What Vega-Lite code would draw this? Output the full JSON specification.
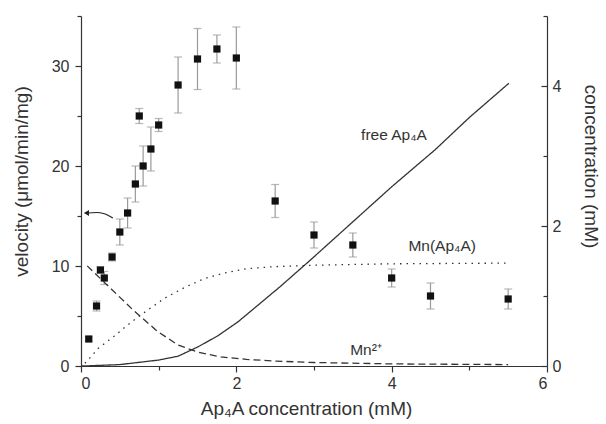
{
  "$schema": "https://vega.github.io/schema/vega-lite/v6.json",
  "width": 466,
  "height": 350,
  "autosize": {"type": "none"},
  "padding": {"left": 81, "top": 16, "right": 59, "bottom": 58},
  "background": "white",
  "config": {
    "view": {"stroke": null},
    "font": "Liberation Sans",
    "scale": {"continuousPadding": 0},
    "axis": {
      "grid": false,
      "domainColor": "#333",
      "tickColor": "#333",
      "labelColor": "#333",
      "titleColor": "#333",
      "labelFontSize": 16,
      "titleFontSize": 19,
      "titleFontWeight": "normal",
      "domainWidth": 1.2,
      "tickWidth": 1.2
    }
  },
  "datasets": {
    "pts": [
      {"x": 0.1, "v": 2.7, "lo": 2.5, "hi": 2.9},
      {"x": 0.2, "v": 6.0, "lo": 5.5, "hi": 6.5},
      {"x": 0.25, "v": 9.6, "lo": 9.3, "hi": 9.9},
      {"x": 0.3, "v": 8.8, "lo": 8.15, "hi": 9.45},
      {"x": 0.4, "v": 10.9, "lo": 10.5, "hi": 11.3},
      {"x": 0.5, "v": 13.4, "lo": 12.1, "hi": 14.7},
      {"x": 0.6, "v": 15.3, "lo": 13.8, "hi": 16.8},
      {"x": 0.7, "v": 18.2, "lo": 16.4, "hi": 20.0},
      {"x": 0.75, "v": 25.0, "lo": 24.25, "hi": 25.75},
      {"x": 0.8, "v": 20.0, "lo": 18.0, "hi": 22.0},
      {"x": 0.9, "v": 21.7, "lo": 19.5, "hi": 23.9},
      {"x": 1.0, "v": 24.1, "lo": 23.45, "hi": 24.75},
      {"x": 1.25, "v": 28.1, "lo": 25.3, "hi": 30.9},
      {"x": 1.5, "v": 30.7, "lo": 27.65, "hi": 33.75},
      {"x": 1.75, "v": 31.7, "lo": 30.3, "hi": 33.1},
      {"x": 2.0, "v": 30.8, "lo": 27.7, "hi": 33.9},
      {"x": 2.5, "v": 16.5, "lo": 14.85, "hi": 18.15},
      {"x": 3.0, "v": 13.1, "lo": 11.8, "hi": 14.4},
      {"x": 3.5, "v": 12.1, "lo": 10.9, "hi": 13.3},
      {"x": 4.0, "v": 8.8, "lo": 7.9, "hi": 9.7},
      {"x": 4.5, "v": 7.0, "lo": 5.7, "hi": 8.3},
      {"x": 5.5, "v": 6.7, "lo": 5.7, "hi": 7.7}
    ],
    "curves": [
      {"series": "free", "x": 0.0, "c": 0.0},
      {"series": "free", "x": 0.1, "c": 0.003},
      {"series": "free", "x": 0.5, "c": 0.02},
      {"series": "free", "x": 1.0, "c": 0.085},
      {"series": "free", "x": 1.25, "c": 0.14},
      {"series": "free", "x": 1.5, "c": 0.27},
      {"series": "free", "x": 1.76, "c": 0.43},
      {"series": "free", "x": 2.02, "c": 0.63},
      {"series": "free", "x": 2.15, "c": 0.75},
      {"series": "free", "x": 2.56, "c": 1.13},
      {"series": "free", "x": 2.95, "c": 1.51},
      {"series": "free", "x": 3.5, "c": 2.06},
      {"series": "free", "x": 4.0, "c": 2.56},
      {"series": "free", "x": 4.56, "c": 3.09},
      {"series": "free", "x": 5.0, "c": 3.55},
      {"series": "free", "x": 5.51, "c": 4.04},
      {"series": "complex", "x": 0.05, "c": 0.04},
      {"series": "complex", "x": 0.09, "c": 0.086},
      {"series": "complex", "x": 0.22, "c": 0.25},
      {"series": "complex", "x": 0.43, "c": 0.43},
      {"series": "complex", "x": 0.65, "c": 0.63},
      {"series": "complex", "x": 0.86, "c": 0.8},
      {"series": "complex", "x": 1.08, "c": 0.97},
      {"series": "complex", "x": 1.33, "c": 1.12},
      {"series": "complex", "x": 1.59, "c": 1.25},
      {"series": "complex", "x": 1.85, "c": 1.33},
      {"series": "complex", "x": 2.13, "c": 1.39},
      {"series": "complex", "x": 2.5, "c": 1.42},
      {"series": "complex", "x": 3.0, "c": 1.44},
      {"series": "complex", "x": 4.0, "c": 1.46},
      {"series": "complex", "x": 5.5, "c": 1.47},
      {"series": "mn", "x": 0.08, "c": 1.43},
      {"series": "mn", "x": 0.39, "c": 1.1},
      {"series": "mn", "x": 0.69, "c": 0.78},
      {"series": "mn", "x": 0.99, "c": 0.49},
      {"series": "mn", "x": 1.25, "c": 0.3},
      {"series": "mn", "x": 1.5, "c": 0.2},
      {"series": "mn", "x": 1.8, "c": 0.13},
      {"series": "mn", "x": 2.13, "c": 0.095},
      {"series": "mn", "x": 2.5, "c": 0.07},
      {"series": "mn", "x": 3.0, "c": 0.05},
      {"series": "mn", "x": 4.0, "c": 0.03},
      {"series": "mn", "x": 5.5, "c": 0.02}
    ],
    "arrow": [
      {"x": 0.41, "v": 14.8, "o": 1},
      {"x": 0.3, "v": 15.22, "o": 2},
      {"x": 0.2, "v": 15.35, "o": 3},
      {"x": 0.08, "v": 15.3, "o": 4}
    ],
    "head": [
      {"x": 0.07, "v": 15.3}
    ],
    "labels": [
      {"x": 4.03, "v": 23.1, "t": "free Ap₄A"},
      {"x": 4.65, "v": 12.0, "t": "Mn(Ap₄A)"},
      {"x": 3.67, "v": 1.6, "t": "Mn²⁺"}
    ]
  },
  "layer": [
    {
      "layer": [
        {
          "data": {"name": "pts"},
          "mark": {"type": "errorbar", "color": "#9a9a9a", "thickness": 1.2, "ticks": {"size": 8, "color": "#9a9a9a"}},
          "encoding": {
            "x": {
              "field": "x", "type": "quantitative",
              "scale": {"domain": [0, 6], "nice": false, "zero": false, "padding": 0},
              "axis": {
                "title": "Ap₄A concentration (mM)",
                "values": [0, 1, 2, 3, 4, 5, 6],
                "labelExpr": "datum.value % 2 === 0 ? format(datum.value, 'd') : ''",
                "tickSize": {"condition": {"test": "datum.value % 2 === 0", "value": 6}, "value": 4},
                "labelPadding": 3,
                "titleBaseline": "alphabetic",
                "titleY": 48,
                "titleX": 225,
                "titleAlign": "center"
              }
            },
            "y": {
              "field": "lo", "type": "quantitative",
              "scale": {"domain": [0, 35], "nice": false, "padding": 0},
              "axis": {
                "title": "velocity (μmol/min/mg)",
                "orient": "left",
                "values": [0, 5, 10, 15, 20, 25, 30, 35],
                "labelExpr": "datum.value % 10 === 0 ? format(datum.value, 'd') : ''",
                "tickSize": {"condition": {"test": "datum.value % 10 === 0", "value": 6}, "value": 4},
                "labelPadding": 6,
                "titleX": -60,
                "titleY": 165,
                "titleAngle": -90,
                "titleBaseline": "middle",
                "titleAlign": "center"
              }
            },
            "y2": {"field": "hi"}
          }
        },
        {
          "data": {"name": "pts"},
          "mark": {"type": "point", "shape": "square", "filled": true, "size": 52, "color": "#111", "opacity": 1},
          "encoding": {
            "x": {"field": "x", "type": "quantitative", "scale": {"domain": [0, 6], "nice": false, "zero": false, "padding": 0}},
            "y": {"field": "v", "type": "quantitative"}
          }
        },
        {
          "data": {"name": "arrow"},
          "mark": {"type": "line", "interpolate": "monotone", "color": "#222", "strokeWidth": 1.2},
          "encoding": {
            "x": {"field": "x", "type": "quantitative", "scale": {"domain": [0, 6], "nice": false, "zero": false, "padding": 0}},
            "y": {"field": "v", "type": "quantitative"},
            "order": {"field": "o"}
          }
        },
        {
          "data": {"name": "head"},
          "mark": {"type": "point", "shape": "triangle-left", "filled": true, "size": 35, "color": "#222", "opacity": 1},
          "encoding": {
            "x": {"field": "x", "type": "quantitative", "scale": {"domain": [0, 6], "nice": false, "zero": false, "padding": 0}},
            "y": {"field": "v", "type": "quantitative"}
          }
        },
        {
          "data": {"name": "labels"},
          "mark": {"type": "text", "fontSize": 15.5, "color": "#333", "align": "center", "baseline": "middle"},
          "encoding": {
            "x": {"field": "x", "type": "quantitative", "scale": {"domain": [0, 6], "nice": false, "zero": false, "padding": 0}},
            "y": {"field": "v", "type": "quantitative"},
            "text": {"field": "t"}
          }
        }
      ]
    },
    {
      "data": {"name": "curves"},
      "mark": {"type": "line", "color": "#333", "strokeWidth": 1.3},
      "encoding": {
        "x": {"field": "x", "type": "quantitative", "scale": {"domain": [0, 6], "nice": false, "zero": false, "padding": 0}},
        "y": {
          "field": "c", "type": "quantitative",
          "scale": {"domain": [0, 5], "nice": false},
          "axis": {
            "title": "concentration (mM)",
            "orient": "right",
            "values": [0, 1, 2, 3, 4, 5],
            "labelExpr": "datum.value % 2 === 0 ? format(datum.value, 'd') : ''",
            "tickSize": {"condition": {"test": "datum.value % 2 === 0", "value": -6}, "value": -4},
            "labelPadding": 11,
            "titleX": 43,
            "titleY": 150,
            "titleAngle": 90,
            "titleBaseline": "middle",
            "titleAlign": "center"
          }
        },
        "detail": {"field": "series"},
        "strokeDash": {
          "field": "series", "type": "nominal",
          "scale": {"domain": ["free", "complex", "mn"], "range": [[1, 0], [1.5, 5], [7, 4]]},
          "legend": null
        }
      }
    }
  ],
  "resolve": {"scale": {"y": "independent"}}
}
